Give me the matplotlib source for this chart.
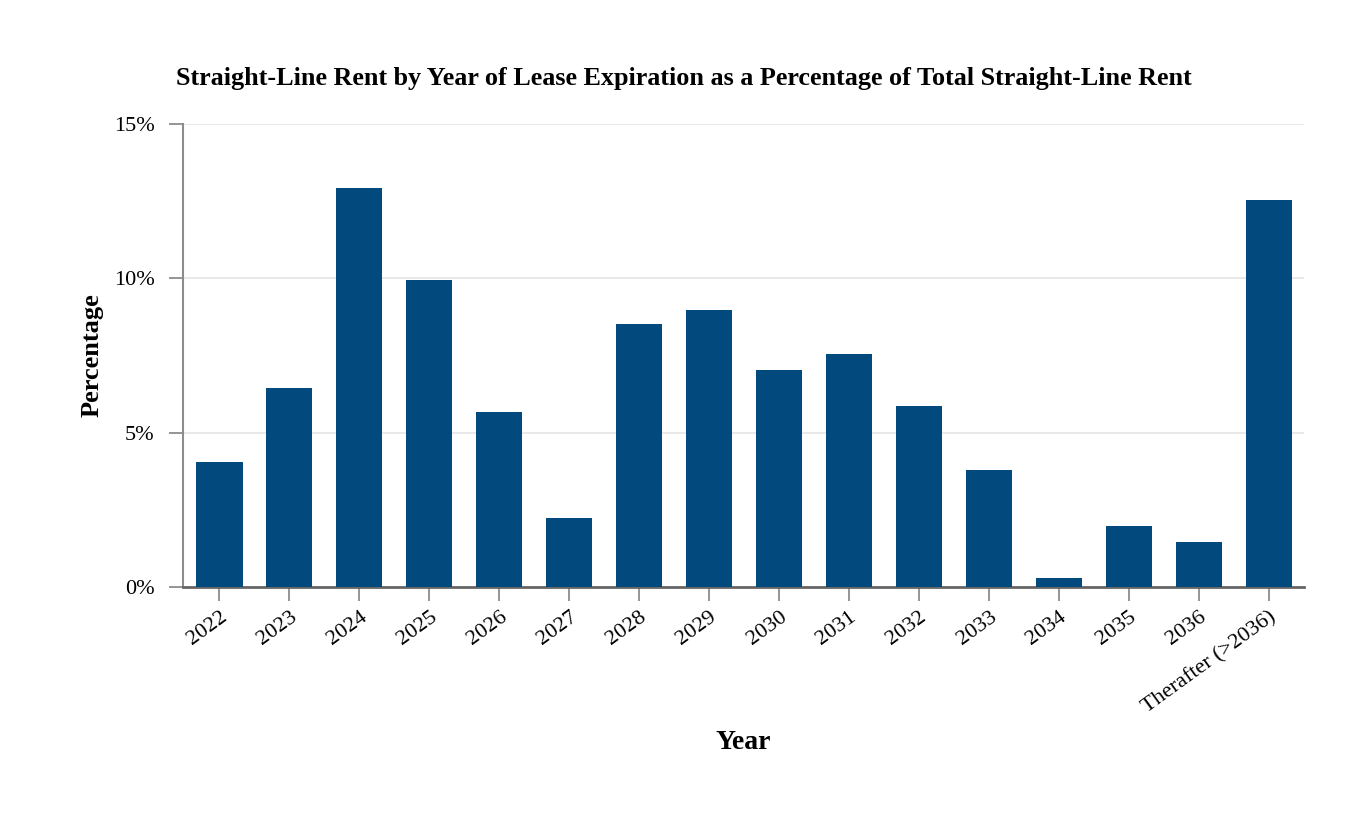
import matplotlib
matplotlib.use("Agg")
import matplotlib.pyplot as plt
import matplotlib.transforms as mtransforms
from matplotlib.ticker import FuncFormatter

categories = ["2022", "2023", "2024", "2025", "2026", "2027", "2028", "2029",
              "2030", "2031", "2032", "2033", "2034", "2035", "2036", "Therafter (>2036)"]
values = [4.05, 6.45, 12.93, 9.95, 5.68, 2.24, 8.53, 8.98,
          7.03, 7.56, 5.87, 3.80, 0.30, 1.98, 1.47, 12.55]
yticks = [0, 5, 10, 15]

plt.rcParams['font.family'] = ['Liberation Serif', 'DejaVu Serif']

fig = plt.figure(figsize=(13.68, 8.18), dpi=100)
ax = fig.add_axes([0.1338, 0.2824, 0.8194, 0.566])

x = list(range(len(categories)))
ax.bar(x, values, width=0.66, color="#024a7d", zorder=3)

ax.set_xlim(-0.52, 15.5)
ax.set_ylim(0, 15)
ax.set_yticks(yticks)
ax.yaxis.set_major_formatter(FuncFormatter(lambda v, p: f"{v:.0f}%"))
ax.grid(axis="y", color="#e6e6e6", linewidth=1.3, zorder=0)
ax.set_xticks(x)
ax.set_xticklabels(categories, rotation=36, ha="right", rotation_mode="anchor")

offset = mtransforms.ScaledTranslation(-4 / 100, 0, fig.dpi_scale_trans)
for lbl in ax.get_xticklabels():
    lbl.set_transform(lbl.get_transform() + offset)

for s in ["top", "right"]:
    ax.spines[s].set_visible(False)
ax.spines["left"].set_color("#8c8c8c")
ax.spines["left"].set_linewidth(1.5)
ax.spines["bottom"].set_color("#666666")
ax.spines["bottom"].set_linewidth(2)

ax.tick_params(axis="y", length=10, width=1.3, color="#8c8c8c", labelsize=16, pad=10.5)
ax.tick_params(axis="x", length=10, width=1.3, color="#8c8c8c", labelsize=16, pad=5)

ax.set_ylabel("Percentage", fontsize=19, fontweight="bold", labelpad=7.5)
ax.set_xlabel("Year", fontsize=20, fontweight="bold", labelpad=9)
fig.suptitle("Straight-Line Rent by Year of Lease Expiration as a Percentage of Total Straight-Line Rent",
             fontsize=18.8, fontweight="bold", x=0.5, y=0.904, va="center")

fig.savefig("out.png", dpi=100)
